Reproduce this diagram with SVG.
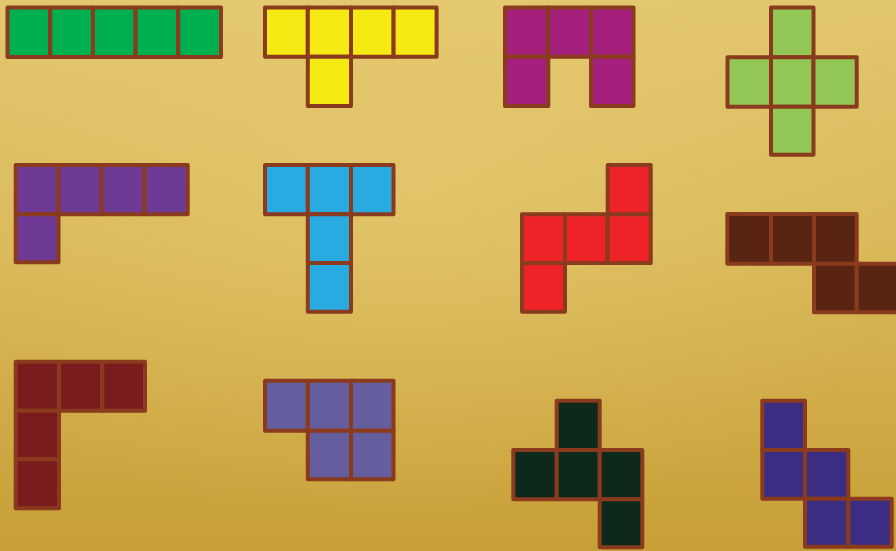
<svg xmlns="http://www.w3.org/2000/svg" width="896" height="551" viewBox="0 0 896 551">
<defs>
<linearGradient id="bg" x1="0" y1="0" x2="0" y2="1">
<stop offset="0" stop-color="#E2C66E"/>
<stop offset="0.45" stop-color="#D8B859"/>
<stop offset="1" stop-color="#C89F37"/>
</linearGradient>
<radialGradient id="glow" cx="0.45" cy="0.35" r="0.6">
<stop offset="0" stop-color="#F0D67E" stop-opacity="0.35"/>
<stop offset="1" stop-color="#F0D67E" stop-opacity="0"/>
</radialGradient>
</defs>
<style>
rect.c{stroke:#8A3A1D;stroke-width:4;stroke-linejoin:round}
.g1{fill:#00AF4F}.g2{fill:#F6EA14}.g3{fill:#A5207D}.g4{fill:#92C755}
.g5{fill:#6E3A96}.g6{fill:#29ABE2}.g7{fill:#EE2328}.g8{fill:#5A2412}
.g9{fill:#7A1B1E}.g10{fill:#645D9E}.g11{fill:#0C291B}.g12{fill:#3B2E82}
</style>
<rect width="896" height="551" fill="url(#bg)"/>
<rect width="896" height="551" fill="url(#glow)"/>

<g id="piece-I" class="g1">
<rect class="c" x="7.5" y="7.5" width="42.7" height="49.5"/>
<rect class="c" x="50.2" y="7.5" width="42.7" height="49.5"/>
<rect class="c" x="92.9" y="7.5" width="42.7" height="49.5"/>
<rect class="c" x="135.6" y="7.5" width="42.7" height="49.5"/>
<rect class="c" x="178.3" y="7.5" width="42.7" height="49.5"/>
</g>

<g id="piece-Y" class="g2">
<rect class="c" x="265" y="7.5" width="42.8" height="49.3"/>
<rect class="c" x="307.8" y="7.5" width="43.2" height="49.3"/>
<rect class="c" x="351" y="7.5" width="42.6" height="49.3"/>
<rect class="c" x="393.6" y="7.5" width="43" height="49.3"/>
<rect class="c" x="307.8" y="56.8" width="43.2" height="49.2"/>
</g>

<g id="piece-U" class="g3">
<rect class="c" x="505" y="7.5" width="43.3" height="49.3"/>
<rect class="c" x="548.3" y="7.5" width="42.7" height="49.3"/>
<rect class="c" x="591" y="7.5" width="42.5" height="49.3"/>
<rect class="c" x="505" y="56.8" width="43.3" height="49.2"/>
<rect class="c" x="591" y="56.8" width="42.5" height="49.2"/>
</g>

<g id="piece-X" class="g4">
<rect class="c" x="771" y="7.5" width="42.5" height="49.8"/>
<rect class="c" x="727.5" y="57.3" width="43.5" height="49.4"/>
<rect class="c" x="771" y="57.3" width="42.5" height="49.4"/>
<rect class="c" x="813.5" y="57.3" width="43.2" height="49.4"/>
<rect class="c" x="771" y="106.7" width="42.5" height="48"/>
</g>

<g id="piece-L" class="g5">
<rect class="c" x="15.7" y="165" width="42.8" height="49.3"/>
<rect class="c" x="58.5" y="165" width="43.2" height="49.3"/>
<rect class="c" x="101.7" y="165" width="42.8" height="49.3"/>
<rect class="c" x="144.5" y="165" width="43.2" height="49.3"/>
<rect class="c" x="15.7" y="214.3" width="42.8" height="48"/>
</g>

<g id="piece-T" class="g6">
<rect class="c" x="265" y="165" width="42.8" height="49.3"/>
<rect class="c" x="307.8" y="165" width="43.2" height="49.3"/>
<rect class="c" x="351" y="165" width="42.5" height="49.3"/>
<rect class="c" x="307.8" y="214.3" width="43.2" height="48.7"/>
<rect class="c" x="307.8" y="263" width="43.2" height="48.7"/>
</g>

<g id="piece-N" class="g7">
<rect class="c" x="607.7" y="165" width="43" height="49.3"/>
<rect class="c" x="522" y="214.3" width="43" height="48.7"/>
<rect class="c" x="565" y="214.3" width="42.7" height="48.7"/>
<rect class="c" x="607.7" y="214.3" width="43" height="48.7"/>
<rect class="c" x="522" y="263" width="43" height="48.7"/>
</g>

<g id="piece-N2" class="g8">
<rect class="c" x="727.3" y="214" width="43.7" height="49.7"/>
<rect class="c" x="771" y="214" width="43" height="49.7"/>
<rect class="c" x="814" y="214" width="42.7" height="49.7"/>
<rect class="c" x="814" y="263.7" width="42.7" height="48.6"/>
<rect class="c" x="856.7" y="263.7" width="43" height="48.6"/>
</g>

<g id="piece-V" class="g9">
<rect class="c" x="15.7" y="361.7" width="43.3" height="49"/>
<rect class="c" x="59" y="361.7" width="43.3" height="49"/>
<rect class="c" x="102.3" y="361.7" width="42.7" height="49"/>
<rect class="c" x="15.7" y="410.7" width="43.3" height="48.6"/>
<rect class="c" x="15.7" y="459.3" width="43.3" height="49"/>
</g>

<g id="piece-P" class="g10">
<rect class="c" x="265" y="380.7" width="42.8" height="50"/>
<rect class="c" x="307.8" y="380.7" width="43.2" height="50"/>
<rect class="c" x="351" y="380.7" width="42.5" height="50"/>
<rect class="c" x="307.8" y="430.7" width="43.2" height="48.6"/>
<rect class="c" x="351" y="430.7" width="42.5" height="48.6"/>
</g>

<g id="piece-F" class="g11">
<rect class="c" x="556.7" y="400.7" width="43" height="49.3"/>
<rect class="c" x="513.3" y="450" width="43.4" height="49.3"/>
<rect class="c" x="556.7" y="450" width="43" height="49.3"/>
<rect class="c" x="599.7" y="450" width="42.6" height="49.3"/>
<rect class="c" x="599.7" y="499.3" width="42.6" height="48"/>
</g>

<g id="piece-W" class="g12">
<rect class="c" x="762.3" y="400.7" width="42.7" height="49.3"/>
<rect class="c" x="762.3" y="450" width="42.7" height="48.7"/>
<rect class="c" x="805" y="450" width="43.3" height="48.7"/>
<rect class="c" x="805" y="498.7" width="43.3" height="48"/>
<rect class="c" x="848.3" y="498.7" width="43.4" height="48"/>
</g>
</svg>
